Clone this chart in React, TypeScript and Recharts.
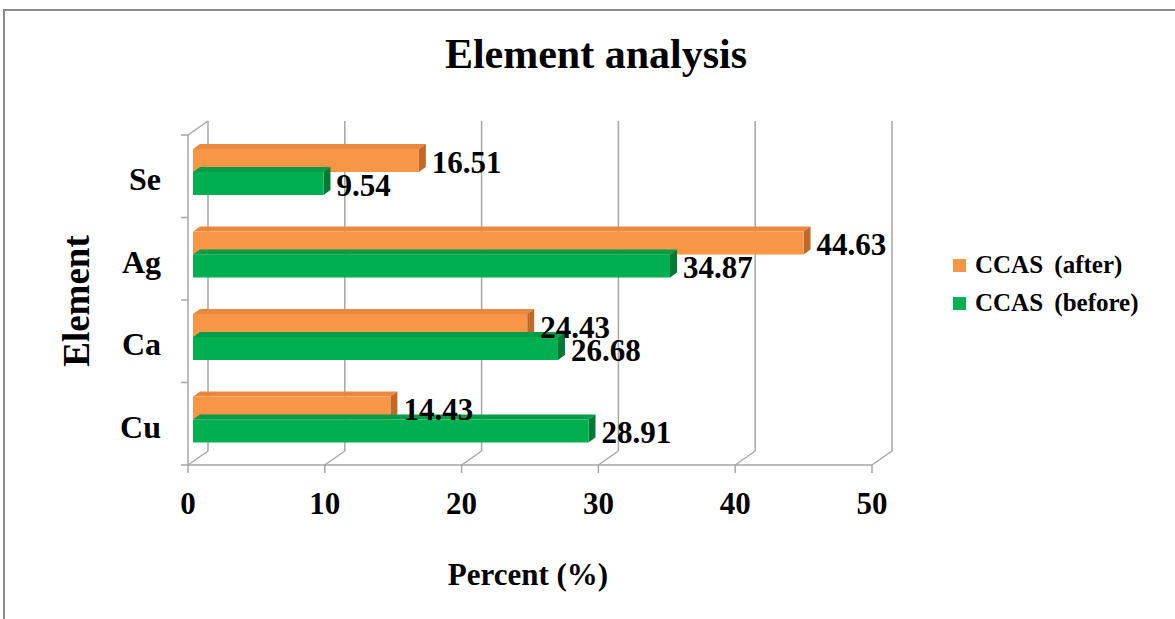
import React from "react";
import { BarChart, Bar, XAxis, YAxis, CartesianGrid, Legend, LabelList } from "recharts";

const elements = ["Se", "Ag", "Ca", "Cu"];
const afterValues = [16.51, 44.63, 24.43, 14.43];
const beforeValues = [9.54, 34.87, 26.68, 28.91];
const percentTicks = [0, 10, 20, 30, 40, 50];

const AFTER_NAME = "CCAS (after)";
const BEFORE_NAME = "CCAS (before)";

const data = elements.map((name, i) => ({
  name,
  after: afterValues[i],
  before: beforeValues[i],
}));

const SERIF = '"Liberation Serif", "Times New Roman", serif';
const GRID = "#a6a6a6";

// fake 3d: wall depth and bar offset/depth
const WALL_DX = 20;
const WALL_DY = 14;
const SHIFT_X = 5;
const SHIFT_Y = 4;
const DEPTH_X = 7;
const DEPTH_Y = 5;

const colors = {
  after: { face: "#f79646", top: "#e8893f", side: "#c0692a" },
  before: { face: "#00b050", top: "#079c47", side: "#007a35" },
};

function Box3D(props: any) {
  const { x, y, width, height, face, top, side } = props;
  if (width == null || width <= 0) return null;
  const x0 = x + SHIFT_X;
  const y0 = y - SHIFT_Y;
  const x1 = x0 + width;
  const y1 = y0 + height;
  return (
    <g>
      <polygon
        points={`${x0},${y0} ${x1},${y0} ${x1 + DEPTH_X},${y0 - DEPTH_Y} ${x0 + DEPTH_X},${y0 - DEPTH_Y}`}
        fill={top}
      />
      <polygon
        points={`${x1},${y0} ${x1 + DEPTH_X},${y0 - DEPTH_Y} ${x1 + DEPTH_X},${y1 - DEPTH_Y} ${x1},${y1}`}
        fill={side}
      />
      <rect x={x0} y={y0} width={width} height={height} fill={face} />
    </g>
  );
}

function ValueLabel(props: any) {
  const { x, y, width, height, value } = props;
  return (
    <text
      x={x + width + SHIFT_X + DEPTH_X + 6}
      y={y + height / 2 + 8}
      fontFamily={SERIF}
      fontWeight="bold"
      fontSize={31}
      fill="#000"
    >
      {value.toFixed(2)}
    </text>
  );
}

function WallLine(props: any) {
  const { x1, y1, y2, index } = props;
  return (
    <g key={`wall-${index}`}>
      <line x1={x1 + WALL_DX} y1={y1 - WALL_DY} x2={x1 + WALL_DX} y2={y2 - WALL_DY} stroke={GRID} strokeWidth={1.5} />
      <line x1={x1 + WALL_DX} y1={y2 - WALL_DY} x2={x1} y2={y2} stroke={GRID} strokeWidth={1.5} />
      {index === 0 && (
        <line x1={x1} y1={y1} x2={x1 + WALL_DX} y2={y1 - WALL_DY} stroke={GRID} strokeWidth={1.5} />
      )}
    </g>
  );
}

function CategoryTick(props: any) {
  const { x1, y1, index } = props;
  return <line key={`ct-${index}`} x1={x1 - 7} y1={y1} x2={x1} y2={y1} stroke={GRID} strokeWidth={1.5} />;
}

function XTick(props: any) {
  const { x, y, payload } = props;
  return (
    <text x={x} y={y + 39} textAnchor="middle" fontFamily={SERIF} fontWeight="bold" fontSize={31} fill="#000">
      {payload.value}
    </text>
  );
}

function YTick(props: any) {
  const { y, payload } = props;
  return (
    <text x={161} y={y + 14} textAnchor="end" fontFamily={SERIF} fontWeight="bold" fontSize={32} fill="#000">
      {payload.value}
    </text>
  );
}

function LegendBox() {
  const items = [
    { name: AFTER_NAME, color: colors.after.face },
    { name: BEFORE_NAME, color: colors.before.face },
  ];
  return (
    <div>
      {items.map((it) => (
        <div key={it.name} style={{ display: "flex", alignItems: "center", height: 38 }}>
          <span style={{ width: 13, height: 13, background: it.color, marginRight: 9, display: "inline-block" }} />
          <span style={{ fontFamily: SERIF, fontWeight: "bold", fontSize: 25, color: "#000", wordSpacing: 5 }}>
            {it.name}
          </span>
        </div>
      ))}
    </div>
  );
}

export default function App() {
  return (
    <div style={{ position: "absolute", left: 0, top: 0, width: 1175, height: 619, overflow: "hidden", background: "#fff" }}>
      <div
        style={{
          position: "absolute",
          left: 3,
          top: 9,
          width: 1200,
          height: 700,
          borderTop: "2px solid #8a8a8a",
          borderLeft: "2px solid #8a8a8a",
        }}
      />
      <BarChart
        width={1175}
        height={619}
        data={data}
        layout="vertical"
        margin={{ top: 135, right: 303, bottom: 94, left: 0 }}
        barSize={23}
        barGap={0}
        style={{ position: "absolute", left: 0, top: 0 }}
      >
        <CartesianGrid
          vertical={WallLine}
          horizontal={CategoryTick}
          horizontalCoordinatesGenerator={({ offset }: any) =>
            elements.map((_, i) => offset.top + (i * offset.height) / elements.length).concat(offset.top + offset.height)
          }
        />
        <XAxis
          type="number"
          domain={[0, 50]}
          ticks={percentTicks}
          height={60}
          tickSize={8}
          tickLine={{ stroke: GRID, strokeWidth: 1.5 }}
          axisLine={{ stroke: GRID, strokeWidth: 1.5 }}
          tick={<XTick />}
          interval={0}
        />
        <YAxis
          type="category"
          dataKey="name"
          width={188}
          tickLine={false}
          axisLine={{ stroke: GRID, strokeWidth: 1.5 }}
          tick={<YTick />}
          interval={0}
        />
        <Legend
          layout="vertical"
          align="center"
          verticalAlign="middle"
          content={<LegendBox />}
          wrapperStyle={{ position: "absolute", left: 953, top: 246, width: 220 }}
        />
        <Bar
          dataKey="after"
          name={AFTER_NAME}
          fill={colors.after.face}
          isAnimationActive={false}
          shape={(p: any) => <Box3D {...p} {...colors.after} />}
        >
          <LabelList dataKey="after" content={<ValueLabel />} />
        </Bar>
        <Bar
          dataKey="before"
          name={BEFORE_NAME}
          fill={colors.before.face}
          isAnimationActive={false}
          shape={(p: any) => <Box3D {...p} {...colors.before} />}
        >
          <LabelList dataKey="before" content={<ValueLabel />} />
        </Bar>
        <text x={596} y={68} textAnchor="middle" fontFamily={SERIF} fontWeight="bold" fontSize={42} fill="#000">
          Element analysis
        </text>
        <text
          x={89}
          y={301}
          textAnchor="middle"
          transform="rotate(-90 89 301)"
          fontFamily={SERIF}
          fontWeight="bold"
          fontSize={37}
          fill="#000"
        >
          Element
        </text>
        <text x={528} y={585} textAnchor="middle" fontFamily={SERIF} fontWeight="bold" fontSize={31} fill="#000">
          Percent (%)
        </text>
      </BarChart>
    </div>
  );
}
